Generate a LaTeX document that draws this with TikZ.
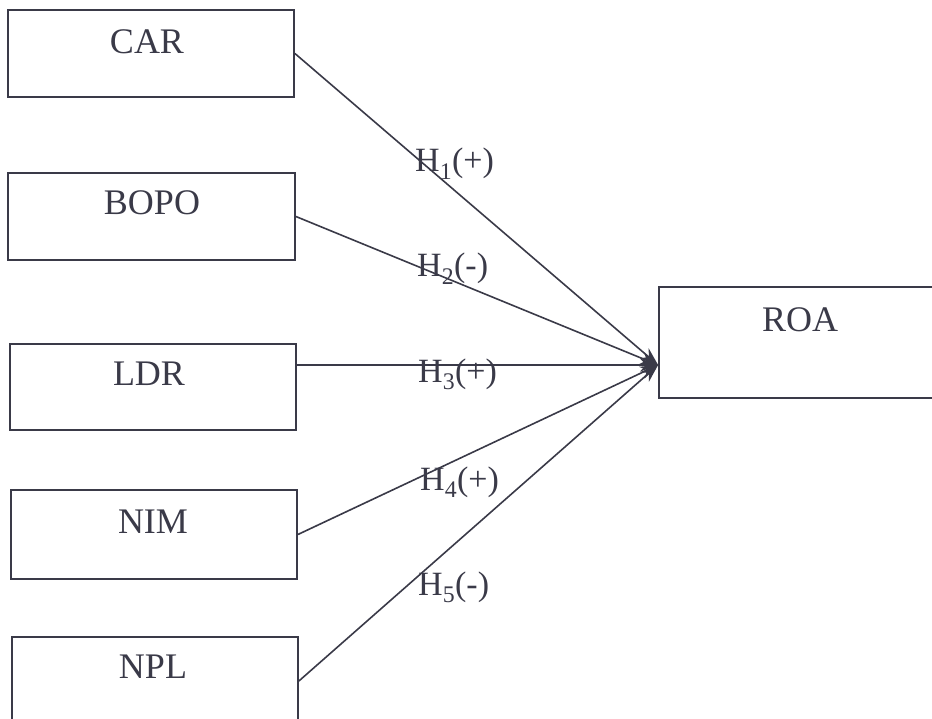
\documentclass[tikz,border=0pt]{standalone}
\usepackage{fontspec}
\setmainfont{Liberation Serif}
\usetikzlibrary{arrows.meta,calc}
\definecolor{ink}{HTML}{3A3A48}
\begin{document}
\begin{tikzpicture}[x=1pt,y=-1pt,
  box/.style={draw=ink,line width=1.8pt,inner sep=0pt},
  lbl/.style={anchor=base,text=ink,inner sep=0pt,font=\fontsize{36}{40}\selectfont},
  hyp/.style={anchor=base west,text=ink,inner sep=0pt,font=\fontsize{34}{40}\selectfont},
  conn/.style={draw=ink,line width=1.6pt,-{Stealth[length=18pt,width=13pt]}}]
\useasboundingbox (0,0) rectangle (932,719);
% boxes
\node[box,minimum width=286pt,minimum height=87pt] (car)  at (151,53.5) {};
\node[box,minimum width=287pt,minimum height=87pt] (bopo) at (151.5,216.5) {};
\node[box,minimum width=286pt,minimum height=86pt] (ldr)  at (153,387) {};
\node[box,minimum width=286pt,minimum height=89pt] (nim)  at (154,534.5) {};
\node[box,minimum width=286pt,minimum height=88pt] (npl)  at (155,681) {};
\node[box,minimum width=276pt,minimum height=111pt] (roa) at (797,342.5) {};
% box texts
\node[lbl] (tcar)  at (147,54)  {CAR};
\node[lbl] (tbopo) at (152,215) {BOPO};
\node[lbl] (tldr)  at (149,385) {LDR};
\node[lbl] (tnim)  at (153,533) {NIM};
\node[lbl] (tnpl)  at (153,678) {NPL};
\node[lbl] (troa)  at (800,332) {ROA};
% target point
\coordinate (tip) at ($(roa.west)+(0,22.5)$);
% connectors
\draw[conn] (car.east) -- (tip);
\draw[conn] (bopo.east) -- (tip);
\draw[conn] (ldr.east |- tip) -- (tip);
\draw[conn] (nim.east) -- (tip);
\draw[conn] (npl.east) -- (tip);
% hypothesis labels
\node[hyp] (h1) at (415,172) {H\textsubscript{1}(+)};
\node[hyp] (h2) at (417,277) {H\textsubscript{2}(-)};
\node[hyp] (h3) at (418,382) {H\textsubscript{3}(+)};
\node[hyp] (h4) at (420,490) {H\textsubscript{4}(+)};
\node[hyp] (h5) at (418,595) {H\textsubscript{5}(-)};
\end{tikzpicture}
\end{document}
